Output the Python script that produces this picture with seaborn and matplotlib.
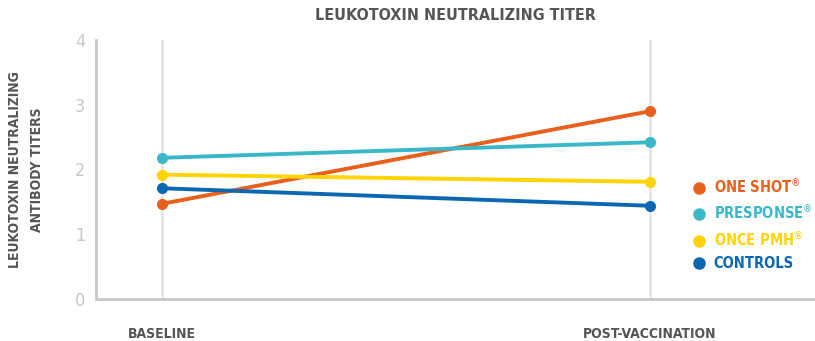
import pandas as pd
import seaborn as sns
import matplotlib.pyplot as plt

# values
timepoints = ["BASELINE", "POST-VACCINATION"]
groups = ["ONE SHOT", "PRESPONSE", "ONCE PMH", "CONTROLS"]
legend_labels = ["ONE SHOT$^{®}$", "PRESPONSE$^{®}$", "ONCE PMH$^{®}$", "CONTROLS"]
one_shot = [1.47, 2.90]
presponse = [2.18, 2.42]
once_pmh = [1.92, 1.81]
controls = [1.71, 1.44]
colors = ["#E8601C", "#3BB8C8", "#FFD400", "#0A68B2"]

rows = []
for g, vals in zip(groups, [one_shot, presponse, once_pmh, controls]):
    for i, v in enumerate(vals):
        rows.append({"group": g, "x": i, "titer": v})
df = pd.DataFrame(rows)

sns.set_style("white")
plt.rcParams['font.family'] = ['DejaVu Sans']
plt.rcParams['font.stretch'] = 'condensed'

fig, ax = plt.subplots(figsize=(8.15, 3.41), dpi=100)
fig.subplots_adjust(left=0.118, right=1.0, top=0.883, bottom=0.123)

for xv in range(len(timepoints)):
    ax.axvline(xv, color="#e6e6e6", lw=2, zorder=0)

sns.lineplot(data=df, x="x", y="titer", hue="group", hue_order=groups,
             palette=colors, marker="o", markersize=8, markeredgewidth=0,
             linewidth=2.8, ax=ax, legend=False)

ax.set_xlim(-0.135, 1.338)
ax.set_ylim(0, 4)
ax.set_xticks(range(len(timepoints)))
ax.set_xticklabels(timepoints, fontsize=10, fontweight="bold", color="#555555")
ax.set_yticks([0, 1, 2, 3, 4])
ax.tick_params(axis="x", length=0, pad=20)
ax.tick_params(axis="y", direction="in", length=10, width=1.5, color="#c8c8c8",
               labelsize=13, labelcolor="#c8c8c8", pad=8)

sns.despine(ax=ax, top=True, right=True)
for s in ["left", "bottom"]:
    ax.spines[s].set_color("#c8c8c8")
    ax.spines[s].set_linewidth(2)

ax.set_xlabel("")
ax.set_ylabel("LEUKOTOXIN NEUTRALIZING\nANTIBODY TITERS", fontsize=10,
              fontweight="bold", color="#555555", labelpad=22, linespacing=1.7)
ax.set_title("LEUKOTOXIN NEUTRALIZING TITER", fontsize=11.5, fontweight="bold",
             color="#555555", pad=14)

handles = [plt.Line2D([], [], marker="o", color=c, ls="", markersize=8) for c in colors]
leg = ax.legend(handles, legend_labels, loc="center left", bbox_to_anchor=(0.80, 0.29),
                frameon=False, handletextpad=0.0, labelspacing=0.5,
                prop={"size": 10.5, "weight": "bold", "stretch": "condensed"})
for t, c in zip(leg.get_texts(), colors):
    t.set_color(c)

fig.savefig("out.png", dpi=100)
